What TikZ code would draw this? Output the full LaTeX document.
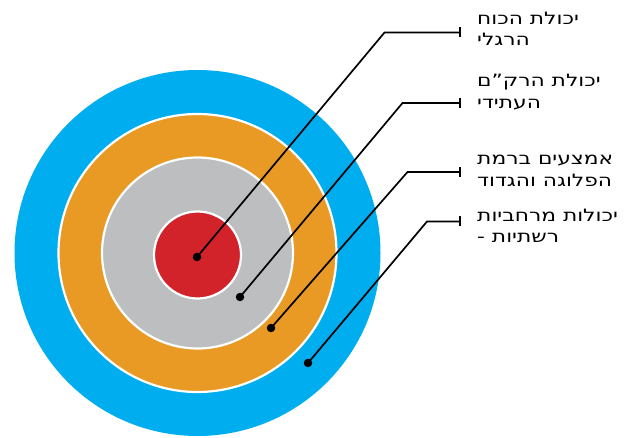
\documentclass[tikz,border=0pt]{standalone}
\usepackage{fontspec}
\setmainfont{DejaVu Sans}
\newfontfamily\hebfont[Script=Hebrew,FakeStretch=1.28]{DejaVu Sans}
\TeXXeTstate=1
\usetikzlibrary{arrows.meta}
\definecolor{cblue}{HTML}{00AEEF}
\definecolor{corange}{HTML}{E89A24}
\definecolor{cgray}{HTML}{BCBEC0}
\definecolor{cred}{HTML}{D2232A}
\tikzset{
  ring/.style={circle, draw=white, line width=2.2pt, inner sep=0pt},
  dotmark/.style={circle, fill=black, inner sep=0pt, minimum size=8.5pt},
  leader/.style={draw=black, line width=1.7pt, -{Bar[width=10pt,line width=1.7pt]}},
  lbl/.style={anchor=west, inner sep=0pt, align=left, font=\hebfont\fontsize{17}{21.5}\selectfont}
}
\begin{document}
\begin{tikzpicture}[x=1pt,y=-1pt]
\useasboundingbox (0,0) rectangle (634,438);
\node[ring, fill=cblue, draw=none, minimum size=366pt] (outer) at (197.5,253) {};
\node[ring, fill=corange, minimum size=278pt] (orange) at (197.5,253) {};
\node[ring, fill=cgray, minimum size=191pt] (gray) at (197.5,253) {};
\node[ring, fill=cred, minimum size=87pt] (red) at (197.5,255) {};
\node[dotmark] (d1) at (197,257) {};
\node[dotmark] (d2) at (240,297) {};
\node[dotmark] (d3) at (271,328) {};
\node[dotmark] (d4) at (308,363) {};
\coordinate (e1) at (384.5,32.5);
\coordinate (e2) at (402.5,103);
\coordinate (e3) at (407.5,172);
\coordinate (e4) at (427,221.5);
\coordinate (t1) at (461,32.5);
\coordinate (t2) at (461,103);
\coordinate (t3) at (461,172);
\coordinate (t4) at (461,221.5);
\draw[leader] (d1.center) -- (e1) -- (t1);
\draw[leader] (d2.center) -- (e2) -- (t2);
\draw[leader] (d3.center) -- (e3) -- (t3);
\draw[leader] (d4.center) -- (e4) -- (t4);
\node[lbl] (l1) at (477,29) {\beginR יכולת הכוח\endR\\\beginR הרגלי\endR};
\node[lbl] (l2) at (477,92) {\beginR יכולת הרק”ם\endR\\\beginR העתידי\endR};
\node[lbl] (l3) at (477,171) {\beginR אמצעים ברמת\endR\\\beginR הפלוגה והגדוד\endR};
\node[lbl] (l4) at (477,226) {\beginR יכולות מרחביות\endR\\\beginR רשתיות -\endR};
\end{tikzpicture}
\end{document}
